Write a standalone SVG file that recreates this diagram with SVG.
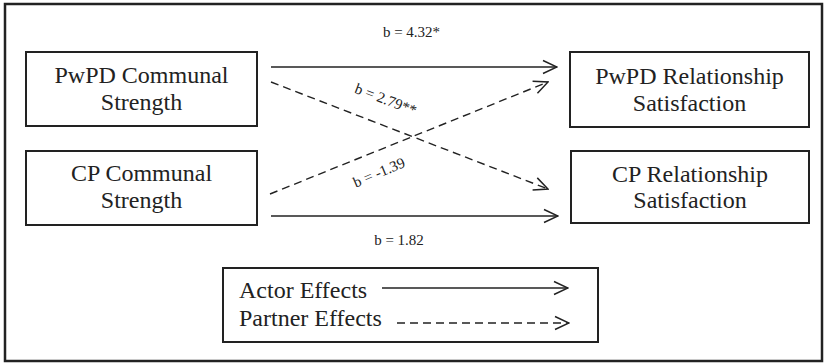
<svg xmlns="http://www.w3.org/2000/svg" width="826" height="363" viewBox="0 0 826 363">
  <style>
    .box { fill: #fff; stroke: #222; stroke-width: 2; }
    .lbl { font-family: "Liberation Serif", "Times New Roman", serif; font-size: 24px; fill: #222; text-anchor: middle; }
    .lgd { font-family: "Liberation Serif", "Times New Roman", serif; font-size: 24px; fill: #222; }
    .coef { font-family: "Liberation Serif", "Times New Roman", serif; font-size: 15px; fill: #222; text-anchor: middle; }
    .solid { stroke: #222; stroke-width: 1.4; fill: none; marker-end: url(#arr); }
    .dash { stroke: #222; stroke-width: 1.4; fill: none; stroke-dasharray: 8 5; marker-end: url(#arr); }
  </style>
  <defs>
    <marker id="arr" markerUnits="userSpaceOnUse" markerWidth="16" markerHeight="16" viewBox="0 0 16 16" refX="15" refY="8" orient="auto">
      <path d="M1,1.5 L15,8 L1,14.5" fill="none" stroke="#222" stroke-width="1.5"/>
    </marker>
  </defs>
  <rect x="0" y="0" width="826" height="363" fill="#fff"/>
  <rect id="frame" x="5" y="4" width="817" height="357" fill="none" stroke="#222" stroke-width="2.5"/>

  <g id="pwpd-communal">
    <rect class="box" x="26" y="52" width="231" height="74"/>
    <text class="lbl" x="141.5" y="83">PwPD Communal</text>
    <text class="lbl" x="141.5" y="110">Strength</text>
  </g>
  <g id="cp-communal">
    <rect class="box" x="26" y="151" width="231" height="74"/>
    <text class="lbl" x="141.5" y="181">CP Communal</text>
    <text class="lbl" x="141.5" y="208">Strength</text>
  </g>
  <g id="pwpd-satisfaction">
    <rect class="box" x="570" y="52" width="239" height="75"/>
    <text class="lbl" x="689.5" y="84">PwPD Relationship</text>
    <text class="lbl" x="689.5" y="111">Satisfaction</text>
  </g>
  <g id="cp-satisfaction">
    <rect class="box" x="571" y="151" width="238" height="72"/>
    <text class="lbl" x="690" y="182">CP Relationship</text>
    <text class="lbl" x="690" y="208">Satisfaction</text>
  </g>

  <g id="connectors">
    <line class="solid" x1="271" y1="67" x2="557" y2="67"/>
    <line class="solid" x1="271" y1="216" x2="558" y2="216"/>
    <line class="dash" x1="271" y1="82" x2="548" y2="189"/>
    <line class="dash" x1="270" y1="194" x2="548" y2="82"/>
    <text class="coef" x="411.5" y="37">b = 4.32*</text>
    <text class="coef" x="399" y="245">b = 1.82</text>
    <text class="coef" transform="translate(384,104) rotate(21)">b = 2.79**</text>
    <text class="coef" transform="translate(381,177) rotate(-23)">b = -1.39</text>
  </g>

  <g id="legend">
    <rect class="box" x="223" y="268" width="375" height="74"/>
    <text class="lgd" x="239" y="298">Actor Effects</text>
    <text class="lgd" x="239" y="326">Partner Effects</text>
    <line class="solid" x1="382" y1="288" x2="568" y2="288"/>
    <line class="dash" x1="397" y1="323" x2="569" y2="323"/>
  </g>
</svg>
